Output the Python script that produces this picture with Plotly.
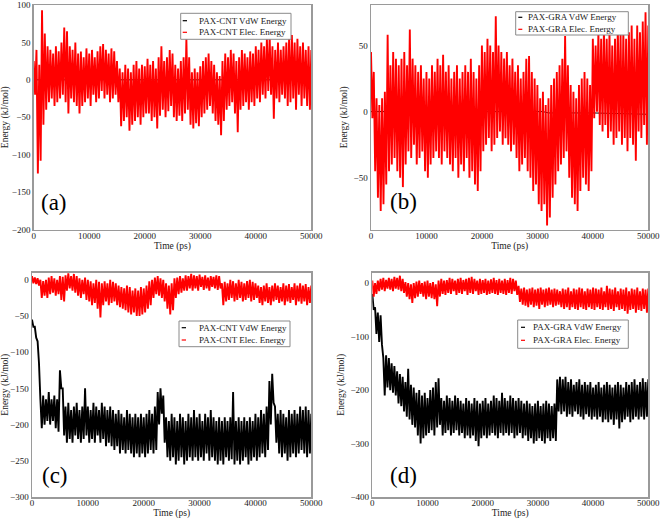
import plotly.graph_objects as go

# ---------------- data ----------------
# each series is sampled every 500 ps; at every sample the upper and lower
# edges of the fluctuating band were read (upper at t, lower at t + 250 ps)
sample_times = list(range(0, 50001, 500))
half_step = 250
x_ticks = [0, 10000, 20000, 30000, 40000, 50000]

# (a) PAX-CNT -- VdW is flat at zero
a_vdw_times = [0, 50000]
a_vdw_values = [0, 0]
a_elec_upper = [25, 40, 20, 93, 62, 45, 40, 35, 45, 38, 50, 70, 65, 45, 40, 50, 35, 38, 30, 42,
                35, 40, 30, 38, 45, 48, 40, 35, 42, 38, 25, 15, 10, 20, 15, 10, 20, 25, 15, 20,
                18, 28, 20, 25, 15, 30, 45, 25, 30, 40, 35, 20, 15, 25, 30, 55, 30, 10, 15, 10,
                18, 25, 30, 35, 25, 20, 10, 5, 25, 35, 30, 40, 35, 25, 30, 40, 35, 30, 38, 35,
                45, 40, 50, 45, 55, 58, 45, 40, 50, 40, 45, 50, 55, 60, 50, 55, 45, 50, 40, 45, 40]
a_elec_lower = [-20, -125, -108, -60, -40, -30, -25, -35, -30, -25, -20, -30, -45, -25, -30, -35, -45, -35, -30, -25,
                -35, -20, -30, -25, -15, -25, -20, -30, -25, -20, -30, -62, -55, -50, -68, -60, -55, -50, -60, -50,
                -45, -45, -55, -50, -65, -48, -40, -50, -42, -35, -50, -55, -48, -55, -45, -40, -60, -65, -58, -62,
                -50, -45, -40, -35, -45, -55, -60, -74, -55, -40, -35, -30, -45, -70, -40, -35, -30, -40, -30, -35,
                -25, -30, -20, -25, -15, -20, -52, -25, -30, -20, -25, -35, -30, -25, -40, -20, -35, -25, -35, -40, -30]

# (b) PAX-GRA
b_vdw_times = [0, 31000, 32000, 40000, 50000]
b_vdw_values = [0, 0, -1, -1, -2]
b_elec_upper = [45, 30, 10, 5, 10, 15, 58, 35, 45, 40, 35, 40, 45, 35, 62, 40, 35, 30, 35, 25,
                30, 25, 35, 30, 40, 35, 43, 30, 35, 25, 30, 35, 25, 30, 35, 30, 40, 30, 25, 35,
                50, 45, 55, 50, 45, 72, 50, 45, 40, 45, 35, 40, 30, 35, 25, 30, 40, 42, 30, 25,
                20, 10, 15, 5, 10, 20, 25, 30, 35, 40, 57, 35, 20, 15, 10, 20, 25, 30, 25, 20,
                55, 50, 60, 55, 62, 55, 60, 50, 55, 65, 58, 60, 55, 60, 65, 55, 65, 60, 68, 75, 65]
b_elec_lower = [-5, -45, -65, -75, -70, -55, -45, -40, -35, -45, -50, -57, -40, -30, -35, -25, -40, -35, -30, -45,
                -50, -40, -35, -30, -35, -40, -30, -35, -40, -45, -35, -50, -40, -45, -35, -50, -45, -55, -60, -45,
                -30, -25, -20, -30, -25, -20, -15, -25, -20, -25, -30, -25, -35, -45, -40, -35, -45, -50, -60, -55,
                -70, -75, -70, -86, -80, -65, -55, -45, -40, -35, -30, -50, -65, -70, -75, -60, -50, -55, -60, -45,
                -5, 0, -10, -15, -10, -20, -15, -25, -20, -15, -25, -20, -30, -20, -25, -37, -15, -20, -10, -25, -15]

# (c) PAX-CNT
c_vdw_upper = [-55, -65, -85, -165, -160, -165, -155, -165, -160, -165, -125, -150, -175, -170, -180, -175, -170, -180, -175, -150,
               -175, -180, -170, -175, -180, -170, -175, -180, -175, -180, -185, -180, -185, -190, -180, -185, -190, -185, -190, -185,
               -190, -185, -180, -185, -175, -155, -150, -160, -190, -195, -185, -190, -195, -185, -190, -195, -185, -190, -180, -190,
               -185, -195, -185, -190, -180, -190, -195, -190, -195, -190, -195, -190, -155, -195, -190, -195, -190, -195, -190, -195,
               -185, -190, -180, -185, -175, -140, -130, -175, -185, -180, -185, -190, -180, -185, -180, -185, -175, -180, -175, -180, -185]
c_vdw_lower = [-65, -80, -115, -205, -200, -195, -200, -195, -205, -210, -150, -215, -225, -220, -225, -215, -220, -225, -220, -215,
               -225, -220, -225, -215, -225, -220, -230, -225, -230, -235, -230, -240, -235, -240, -235, -240, -245, -240, -245, -240,
               -245, -240, -235, -240, -235, -200, -185, -225, -245, -250, -245, -255, -250, -245, -255, -250, -245, -250, -245, -250,
               -245, -250, -240, -250, -245, -250, -255, -250, -255, -245, -250, -248, -255, -250, -255, -250, -245, -255, -250, -245,
               -250, -245, -240, -245, -235, -200, -170, -225, -240, -245, -240, -250, -245, -240, -245, -240, -235, -240, -245, -240, -235]
c_elec_upper = [5, 3, 2, 0, -2, 0, 3, 5, 2, 0, 5, 4, 6, 9, 5, 8, 5, 2, 0, 3,
                0, -2, -5, 0, -3, -5, -2, -5, 0, -3, -5, -8, -10, -12, -8, -10, -15, -12, -15, -10,
                -12, -8, -2, 0, 3, 5, 2, 0, -5, -8, -5, 2, 3, 5, 2, 6, 5, 8, 6, 5,
                7, 4, 6, 3, 5, 4, 6, 5, -5, -3, -5, 0, -2, -5, 0, -3, -5, -2, 0, -3,
                -5, -8, -10, -8, -5, -10, -8, -5, -8, -10, -5, -8, -6, -10, -5, -8, -5, -8, -6, -10, -8]
c_elec_lower = [-5, -6, -8, -25, -22, -25, -20, -18, -22, -20, -28, -30, -15, -12, -15, -18, -22, -25, -20, -28,
                -30, -35, -32, -40, -52, -35, -30, -35, -32, -30, -35, -38, -40, -42, -45, -48, -45, -50, -50, -48,
                -45, -40, -35, -25, -20, -22, -25, -30, -40, -48, -42, -25, -20, -18, -15, -15, -12, -15, -12, -15,
                -10, -14, -12, -15, -10, -12, -14, -12, -35, -30, -28, -25, -30, -28, -25, -30, -28, -25, -30, -28,
                -25, -32, -35, -30, -32, -35, -30, -28, -32, -30, -35, -30, -32, -28, -35, -30, -33, -30, -35, -32, -38]

# (d) PAX-GRA
d_vdw_upper = [-20, -45, -55, -60, -140, -135, -140, -150, -155, -165, -170, -175, -185, -160, -190, -195, -205, -200, -210, -205,
               -215, -200, -195, -185, -178, -215, -220, -210, -215, -220, -210, -215, -220, -225, -215, -220, -225, -215, -220, -225,
               -220, -215, -225, -220, -210, -215, -220, -205, -215, -220, -210, -215, -220, -215, -220, -225, -220, -225, -230, -225,
               -220, -230, -225, -220, -225, -230, -225, -180, -175, -180, -175, -185, -180, -190, -185, -180, -190, -185, -190, -185,
               -195, -190, -185, -195, -190, -185, -190, -195, -190, -185, -190, -195, -185, -190, -185, -180, -190, -185, -178, -185, -180]
d_vdw_lower = [-50, -95, -110, -115, -210, -195, -200, -205, -210, -225, -230, -240, -250, -255, -265, -270, -285, -300, -290, -285,
               -280, -275, -285, -270, -265, -285, -280, -275, -285, -280, -275, -285, -280, -290, -285, -290, -285, -295, -305, -290,
               -285, -290, -285, -280, -285, -290, -280, -285, -280, -285, -280, -290, -285, -280, -290, -285, -295, -290, -300, -295,
               -290, -295, -300, -290, -295, -290, -295, -240, -245, -240, -250, -245, -250, -240, -245, -250, -255, -245, -250, -255,
               -250, -255, -250, -260, -255, -260, -255, -265, -255, -272, -260, -255, -250, -260, -255, -250, -255, -250, -255, -250, -245]
d_elec_upper = [5, 0, 5, 8, 10, 6, 10, 8, 12, 10, 14, 8, 2, 0, -2, 0, 3, 5, 0, 3,
                5, 0, 2, -2, 5, 8, 5, 6, 10, 8, 5, 8, 10, 6, 8, 10, 12, 8, 5, 8,
                6, 8, 5, 7, 10, 6, 8, 5, 8, 6, 10, 8, 5, -5, -10, -8, -12, -10, -8, -12,
                -10, -8, -12, -10, -8, -12, -10, -12, -15, -10, -12, -8, -15, -10, -12, -8, -10, -15, -10, -12,
                -8, -10, -12, -8, -15, -5, -10, -12, -8, -15, -10, -12, -8, -15, -10, -12, -8, -15, -10, -12, -10]
d_elec_lower = [-25, -20, -15, -12, -15, -10, -12, -15, -10, -12, -15, -18, -25, -30, -37, -28, -25, -20, -25, -30,
                -25, -28, -30, -43, -25, -20, -22, -18, -20, -15, -22, -18, -20, -15, -22, -18, -20, -15, -22, -20,
                -18, -22, -20, -18, -20, -22, -18, -20, -22, -18, -20, -15, -22, -35, -40, -42, -45, -40, -45, -42,
                -48, -40, -45, -42, -40, -45, -42, -40, -45, -48, -45, -50, -45, -48, -50, -45, -48, -50, -45, -48,
                -50, -45, -48, -50, -45, -50, -48, -52, -45, -50, -48, -52, -57, -50, -48, -55, -50, -52, -48, -55, -45]

vdw_names = ["PAX-CNT VdW Energy", "PAX-GRA VdW Energy"]
elec_names = ["PAX-CNT Elec. Energy", "PAX-GRA Elec. Energy"]
panel_tags = ["(a)", "(b)", "(c)", "(d)"]

# ---------------- helpers ----------------
W, H = 661, 523
FONT = "Liberation Serif, Times New Roman, serif"


def band(upper, lower):
    xs, ys = [], []
    for t, u, l in zip(sample_times, upper, lower):
        xs += [t, t + half_step]
        ys += [u, l]
    return xs, ys


def px(x):
    return x / W


def py(y):
    return 1 - y / H


def line_trace(x, y, name, color, ax, width=1.9):
    return go.Scatter(x=x, y=y, mode="lines", name=name,
                      line=dict(color=color, width=width, simplify=False),
                      xaxis="x" + ax, yaxis="y" + ax)


fig = go.Figure()

# panel (a)
fig.add_trace(line_trace(a_vdw_times, a_vdw_values, vdw_names[0], "black", "", 1))
fig.add_trace(line_trace(*band(a_elec_upper, a_elec_lower), elec_names[0], "red", ""))
# panel (b)
fig.add_trace(line_trace(b_vdw_times, b_vdw_values, vdw_names[1], "black", "2", 1))
fig.add_trace(line_trace(*band(b_elec_upper, b_elec_lower), elec_names[1], "red", "2"))
# panel (c)
fig.add_trace(line_trace(*band(c_vdw_upper, c_vdw_lower), vdw_names[0], "black", "3"))
fig.add_trace(line_trace(*band(c_elec_upper, c_elec_lower), elec_names[0], "red", "3"))
# panel (d)
fig.add_trace(line_trace(*band(d_vdw_upper, d_vdw_lower), vdw_names[1], "black", "4"))
fig.add_trace(line_trace(*band(d_elec_upper, d_elec_lower), elec_names[1], "red", "4"))

frame = dict(showline=True, linecolor="#9a9a9a", linewidth=1.5, mirror=True,
             showgrid=False, zeroline=False, ticks="", automargin=False,
             tickfont=dict(family=FONT, size=9, color="#222"))
xtitle = dict(text="Time (ps)", font=dict(family=FONT, size=9.5, color="#222"), standoff=2)
ytitle = dict(text="Energy (kJ/mol)", font=dict(family=FONT, size=9.5, color="#222"), standoff=4)

# plot-area pixel boxes: (left, right, top, bottom)
boxes = {
    "a": (33.7, 311.3, 5.0, 229.5),
    "b": (371.0, 648.3, 5.0, 229.5),
    "c": (32.0, 311.3, 272.5, 497.0),
    "d": (372.3, 648.3, 272.5, 497.0),
}
y_ranges = {"a": [-200, 100], "b": [-89, 80.5], "c": [-300, 10], "d": [-400, 20]}
y_dticks = {"a": 50, "b": 50, "c": 50, "d": 100}
suffix = {"a": "", "b": "2", "c": "3", "d": "4"}

layout_axes = {}
for k, (l, r, t, b) in boxes.items():
    s = suffix[k]
    layout_axes["xaxis" + s] = dict(frame, domain=[px(l), px(r)], range=[0, 50000],
                                    tickvals=x_ticks, tickformat="d", ticklabelstandoff=-3,
                                    anchor="y" + s, title=xtitle)
    layout_axes["yaxis" + s] = dict(frame, domain=[py(b), py(t)], range=y_ranges[k],
                                    dtick=y_dticks[k], tick0=0, anchor="x" + s, title=ytitle)

fig.update_layout(**layout_axes)

# custom legends (short line samples, as in the original)
legend_specs = [
    # box l, r, t, b, sample x0, x1, text x, row ys, names
    (180.7, 291.0, 13.3, 39.3, 182.7, 187.0, 197.0, (20.7, 32.3), (vdw_names[0], elec_names[0])),
    (515.7, 628.3, 11.7, 35.0, 518.3, 522.3, 526.0, (17.3, 29.3), (vdw_names[1], elec_names[1])),
    (179.0, 290.0, 321.0, 346.7, 181.7, 186.0, 196.5, (327.7, 340.0), (vdw_names[0], elec_names[0])),
    (517.7, 628.3, 320.0, 348.3, 521.0, 525.0, 531.0, (327.3, 340.3), (vdw_names[1], elec_names[1])),
]
shapes = []
annotations = []
for (l, r, t, b, s0, s1, tx, rows, names) in legend_specs:
    shapes.append(dict(type="rect", xref="paper", yref="paper", x0=px(l), x1=px(r), y0=py(b), y1=py(t),
                       line=dict(color="#8a8a8a", width=1), fillcolor="white", layer="above"))
    for yy, nm, col in zip(rows, names, ("black", "red")):
        shapes.append(dict(type="line", xref="paper", yref="paper", x0=px(s0), x1=px(s1), y0=py(yy), y1=py(yy),
                           line=dict(color=col, width=1.2), layer="above"))
        annotations.append(dict(xref="paper", yref="paper", x=px(tx), y=py(yy), text=nm, showarrow=False,
                                xanchor="left", yanchor="middle",
                                font=dict(family=FONT, size=9, color="#222")))

# panel tags
tag_pos = [(54.2, 202.0), (403.7, 201.7), (54.7, 475.7), (403.7, 475.7)]
for tag, (x, y) in zip(panel_tags, tag_pos):
    annotations.append(dict(xref="paper", yref="paper", x=px(x), y=py(y), text=tag, showarrow=False,
                            xanchor="center", yanchor="middle",
                            font=dict(family=FONT, size=23, color="black")))

fig.update_layout(
    width=W, height=H, margin=dict(l=0, r=0, t=0, b=0),
    paper_bgcolor="white", plot_bgcolor="white",
    showlegend=False, shapes=shapes, annotations=annotations,
)

# the page body has a default 8px margin; remove it so the 661x523 figure fills the window
fig.write_html("out.html", config={"staticPlot": True, "displayModeBar": False},
               post_script="document.body.style.margin='0';document.body.style.overflow='hidden';")
